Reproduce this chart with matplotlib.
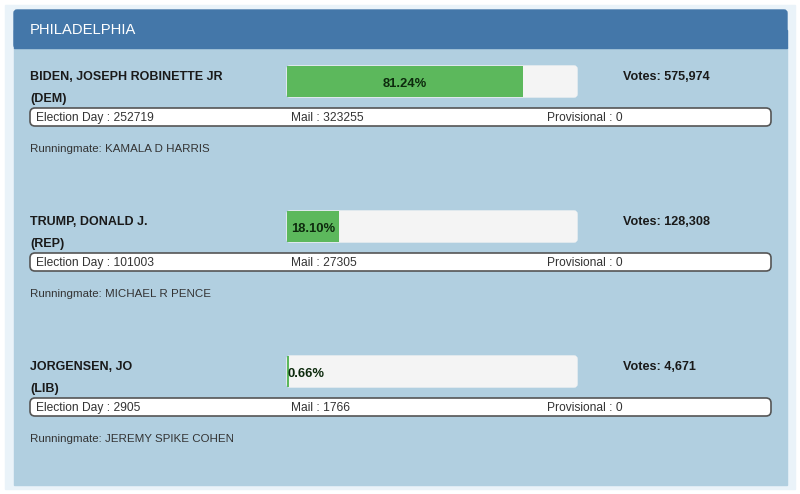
import matplotlib
matplotlib.use("Agg")
import matplotlib.pyplot as plt
from matplotlib.patches import FancyBboxPatch, Rectangle

plt.rcParams['font.family'] = ['Liberation Sans', 'DejaVu Sans']

# -----------------------------
# DATA
# -----------------------------
county = "PHILADELPHIA"
names = ["BIDEN, JOSEPH ROBINETTE JR", "TRUMP, DONALD J.", "JORGENSEN, JO"]
parties = ["DEM", "REP", "LIB"]
percents = [81.24, 18.10, 0.66]
votes = [575974, 128308, 4671]
election_day = [252719, 101003, 2905]
mail = [323255, 27305, 1766]
provisional = [0, 0, 0]
runningmates = ["KAMALA D HARRIS", "MICHAEL R PENCE", "JEREMY SPIKE COHEN"]

# -----------------------------
# STYLE
# -----------------------------
header_col = "#4477a9"
body_col = "#b1cfe0"
green = "#5cb85c"
track = "#f4f4f4"
pt = 72 / 100  # pixels -> points

fig = plt.figure(figsize=(8, 4.94), dpi=100)
ax = fig.add_axes([0, 0, 1, 1])
ax.set_xlim(0, 800)
ax.set_ylim(494, 0)
ax.axis("off")

# panel
ax.add_patch(Rectangle((5, 5), 790, 484, color="#eaf3f9", zorder=0))
ax.add_patch(Rectangle((14, 47), 773, 438, color=body_col, zorder=1))
ax.add_patch(FancyBboxPatch((14, 10), 773, 38, boxstyle="round,pad=0,rounding_size=3",
                            color=header_col, zorder=2))
ax.add_patch(Rectangle((14, 30), 773, 18, color=header_col, zorder=2))
ax.text(30, 29.5, county, color="white", fontsize=14.7 * pt, va="center", zorder=3)

bar_x, bar_w, bar_h = 287, 290, 31
step = 145

for i, name in enumerate(names):
    y0 = i * step
    # candidate name / party
    ax.text(30, 76.5 + y0, name, fontsize=12.5 * pt, fontweight="bold", va="center", color="#1a1a1a", zorder=3)
    ax.text(30, 98.5 + y0, f"({parties[i]})", fontsize=12.5 * pt, fontweight="bold", va="center", color="#1a1a1a", zorder=3)

    # progress bar
    ax.add_patch(FancyBboxPatch((bar_x, 66 + y0), bar_w, bar_h,
                                boxstyle="round,pad=0,rounding_size=3",
                                color=track, zorder=2))
    fill = percents[i] / 100 * bar_w
    ax.barh(66 + y0 + bar_h / 2, fill, height=bar_h, left=bar_x, color=green, zorder=3)
    label = f"{percents[i]:.2f}%"
    tw = 7.3 * len(label)
    cx = max(bar_x + fill / 2, bar_x + tw / 2 + 1)
    ax.text(cx, 84 + y0, label, fontsize=13 * pt, fontweight="bold", ha="center", va="center",
            color="#0d2a0d", zorder=4)

    ax.text(623, 76.5 + y0, f"Votes: {votes[i]:,}", fontsize=12.6 * pt, fontweight="bold",
            va="center", color="#1a1a1a", zorder=3)

    # breakdown box
    ax.add_patch(FancyBboxPatch((30, 108 + y0), 741, 18,
                                boxstyle="round,pad=0,rounding_size=5",
                                facecolor="white", edgecolor="#555", linewidth=1.2, zorder=2))
    ax.text(36, 117.5 + y0, f"Election Day : {election_day[i]}", fontsize=12 * pt,
            va="center", color="#333", zorder=3)
    ax.text(291, 117.5 + y0, f"Mail : {mail[i]}", fontsize=12 * pt,
            va="center", color="#333", zorder=3)
    ax.text(547, 117.5 + y0, f"Provisional : {provisional[i]}", fontsize=12 * pt,
            va="center", color="#333", zorder=3)

    ax.text(30, 149 + y0, f"Runningmate: {runningmates[i]}", fontsize=11.5 * pt,
            va="center", color="#333", zorder=3)

fig.savefig("out.png", dpi=100)
